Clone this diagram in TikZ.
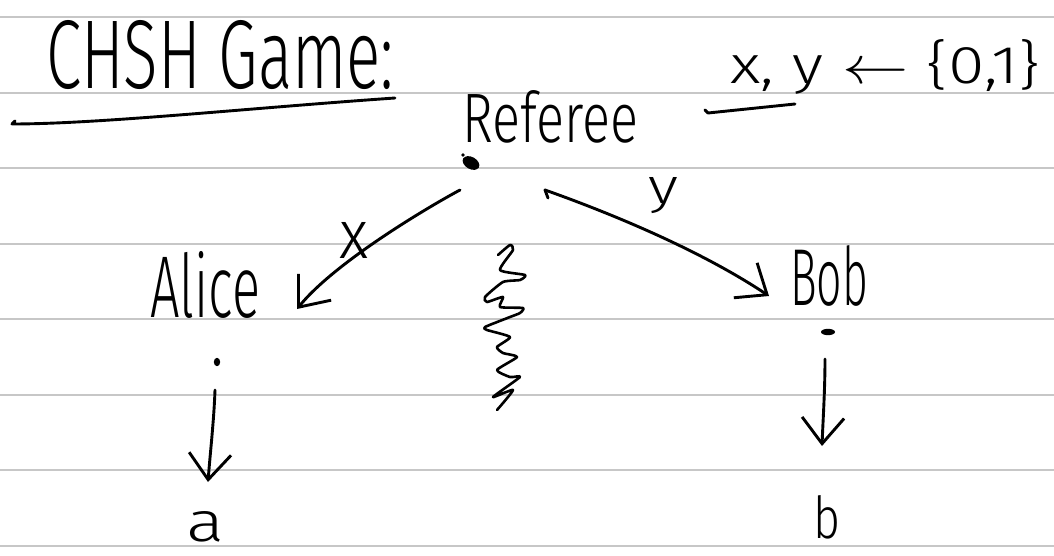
\documentclass[tikz,border=0pt]{standalone}
\usepackage{fontspec}
\usepackage{graphicx}
\newfontfamily\hand{Fira Sans Light}
\usetikzlibrary{arrows.meta}
\begin{document}
\begin{tikzpicture}[x=1pt,y=-1pt,
  ink/.style={line width=2.9pt, line cap=round, line join=round, draw=black},
  rule/.style={line width=1.4pt, draw=black!22},
  lbl/.style={inner sep=0pt, outer sep=0pt, anchor=base west, font=\hand},
  head/.style={-{Straight Barb[length=26pt,width=42pt,line width=2.9pt]}}
]
\useasboundingbox (0,0) rectangle (1054,556);
\foreach \yy in {17,93,168,244,319,395,470,546} \draw[rule] (0,\yy) -- (1054,\yy);

% texts
\node[lbl] (title) at (46,89) {\resizebox{348pt}{68pt}{CHSH Game:}};
\node[lbl] (referee) at (462,143) {\resizebox{176pt}{52pt}{Referee}};
\node[lbl] (xy) at (730,84) {\resizebox{310pt}{44pt}{x, y $\leftarrow$ \{0,1\}}};
\node[lbl] (alice) at (150,317) {\resizebox{110pt}{66pt}{Alice}};
\node[lbl] (bob) at (790,305) {\resizebox{78pt}{60pt}{Bob}};
\node[lbl] (a) at (186,541) {\resizebox{38pt}{30pt}{a}};
\node[lbl] (b) at (813,538) {\resizebox{27pt}{43pt}{b}};
\node[lbl] (xl) at (339,258) {\resizebox{29pt}{36pt}{x}};
\node[lbl] (yl) at (648,203) {\resizebox{30pt}{26pt}{y}};

% underlines
\draw[ink] (395,98) .. controls (250,108) and (100,124) .. (12,124) -- (15,121);
\draw[ink] (795,104) -- (708,113) -- (705,110);

% dots
\fill[rotate around={-30:(471,163)}] (471,163) ellipse (9 and 6);
\fill (463,155) circle (1.8);
\fill (217,362) ellipse (3.2 and 4.2);
\fill (828,332) ellipse (7 and 3.2);

% connectors
\coordinate (rA) at (460,190);
\coordinate (tA) at (297,309);
\draw[ink,head] (rA) .. controls (430,206) and (335,262) .. (tA);

\coordinate (rB) at (545,190);
\coordinate (tB) at (769,296);
\draw[ink] (548,198) -- (rB);
\draw[ink,head] (rB) .. controls (610,213) and (700,250) .. (tB);

\coordinate (aS) at (215,390);
\coordinate (aE) at (208,482);
\draw[ink,head] (aS) .. controls (214,420) and (210,455) .. (aE);

\coordinate (bS) at (825,359);
\coordinate (bE) at (822,446);
\draw[ink,head] (bS) .. controls (825,390) and (823,420) .. (bE);

% scribble
\draw[ink, line width=2.6pt] plot[smooth, tension=0.35] coordinates {
(498,255) (510,245) (513,250) (500,270) (525,275) (520,280) (503,282)
(485,297) (487,302) (503,297) (500,307) (523,308) (520,313) (510,317)
(485,327) (487,330) (510,337) (497,347) (503,353) (517,357) (497,370)
(510,377) (520,377) (493,397) (513,390) (497,410)};
\end{tikzpicture}
\end{document}
